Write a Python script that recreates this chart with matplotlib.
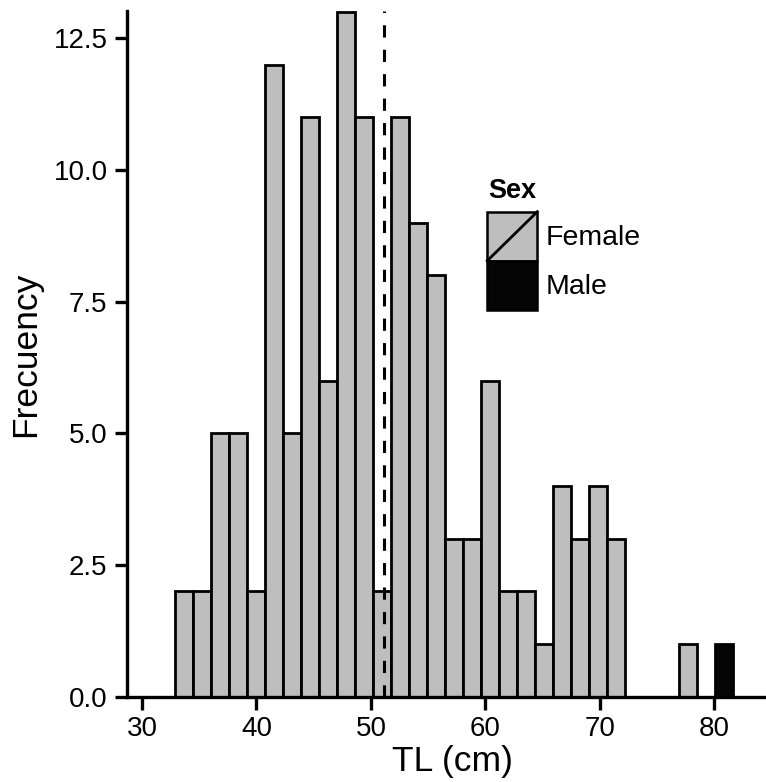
import numpy as np
import matplotlib
matplotlib.use("Agg")
import matplotlib.pyplot as plt
from matplotlib.patches import Patch, Rectangle
from matplotlib.lines import Line2D
from matplotlib.legend_handler import HandlerPatch

plt.rcParams['font.family'] = ['Liberation Sans', 'DejaVu Sans']

# ---------------------------------------------------------
# Daten (Histogramm-Klassen)
# ---------------------------------------------------------
bin_start = 32.885      # linke Kante der ersten Klasse (cm)
bin_width = 1.571       # Klassenbreite (cm)
female = [2, 2, 5, 5, 2, 12, 5, 11, 6, 13, 11, 2, 11, 9, 8, 3,
          3, 6, 2, 2, 1, 4, 3, 4, 3, 0, 0, 0, 1, 0, 0]
male = [0] * 30 + [1]
mean_tl = 51.1
sex_labels = ["Female", "Male"]
colors = {"Female": "#BEBEBE", "Male": "#050505"}

edges = bin_start + bin_width * np.arange(len(female))
female = np.array(female)
male = np.array(male)


class DiagHandler(HandlerPatch):
    # Legendenschluessel mit Diagonale (wie in ggplot)
    def __init__(self, diag=True, **kw):
        super().__init__(**kw)
        self.diag = diag

    def create_artists(self, legend, orig_handle, xdescent, ydescent,
                       width, height, fontsize, trans):
        r = Rectangle((-xdescent, -ydescent), width, height,
                      facecolor=orig_handle.get_facecolor(),
                      edgecolor="black", linewidth=1.8, transform=trans)
        arts = [r]
        if self.diag:
            arts.append(Line2D([-xdescent, -xdescent + width],
                               [-ydescent, -ydescent + height],
                               color="black", linewidth=2.0, transform=trans))
        return arts


# ---------------------------------------------------------
# Plot
# ---------------------------------------------------------
fig = plt.figure(figsize=(7.66, 7.82), dpi=100)
ax = fig.add_axes([0.1658, 0.1091, 0.849, 0.8768])

ax.bar(edges, female, width=bin_width, align="edge",
       color=colors["Female"], edgecolor="black", linewidth=2.0, zorder=2)
mask = male > 0
ax.bar(edges[mask], male[mask], bottom=female[mask], width=bin_width,
       align="edge", color=colors["Male"], edgecolor="black",
       linewidth=2.0, zorder=2)

ax.axvline(mean_tl, color="black", linewidth=2.2, dashes=(4, 4), zorder=3)

ax.set_xlim(28.69, 85.5)
ax.set_ylim(0, 13.02)
ax.set_xticks([30, 40, 50, 60, 70, 80])
ax.set_yticks([0, 2.5, 5, 7.5, 10, 12.5])
ax.set_yticklabels([f"{v:.1f}" for v in [0, 2.5, 5, 7.5, 10, 12.5]])

for s in ["top", "right"]:
    ax.spines[s].set_visible(False)
for s in ["left", "bottom"]:
    ax.spines[s].set_linewidth(2.4)
ax.tick_params(axis="both", length=9, width=2.4, labelsize=20,
               colors="black", pad=5)

ax.set_xlabel("TL (cm)", fontsize=25.5, labelpad=2)
ax.set_ylabel("Frecuency", fontsize=25.5, labelpad=8)

# Legende: Titel separat, damit der Abstand zu den Schluesseln passt
fig.text(0.637, 0.7468, "Sex", fontsize=19.5, fontweight="bold",
         ha="left", va="baseline")
handles = [Patch(facecolor=colors["Female"]), Patch(facecolor=colors["Male"])]
leg = fig.legend(handles, sex_labels,
                 loc="upper left", bbox_to_anchor=(0.6362, 0.7293),
                 frameon=False, fontsize=20.5,
                 handlelength=1.756, handleheight=2.271, labelspacing=0,
                 handletextpad=0.28, borderpad=0, borderaxespad=0,
                 handler_map={handles[0]: DiagHandler(diag=True),
                              handles[1]: DiagHandler(diag=False)})

fig.savefig("out.png", dpi=100)
